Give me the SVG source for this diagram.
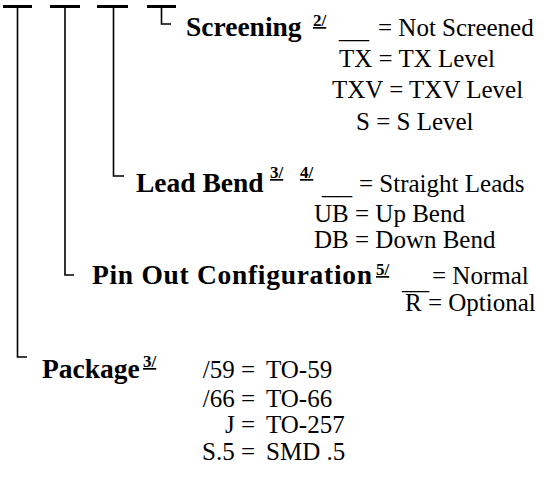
<svg xmlns="http://www.w3.org/2000/svg" width="544" height="478" viewBox="0 0 544 478">
<style>
.b{font-family:"Liberation Serif","Times New Roman",serif;font-weight:bold;font-size:27.5px;fill:#000}
.r{font-family:"Liberation Serif","Times New Roman",serif;font-size:25px;fill:#000}
.s{font-family:"Liberation Serif","Times New Roman",serif;font-weight:bold;font-size:17px;text-decoration:underline;fill:#000}
.bar{stroke:#000;stroke-width:3;fill:none}
.ln{stroke:#000;stroke-width:1.6;fill:none}
</style>
<rect width="544" height="478" fill="#fff"/>
<g id="connectors">
<line class="bar" x1="3" y1="6.5" x2="32" y2="6.5"/>
<line class="bar" x1="50" y1="6.5" x2="80" y2="6.5"/>
<line class="bar" x1="97" y1="6.5" x2="128" y2="6.5"/>
<line class="bar" x1="147" y1="6.5" x2="176" y2="6.5"/>
<polyline class="ln" points="17.5,7 17.5,357 27,357"/>
<polyline class="ln" points="65,7 65,275 74,275"/>
<polyline class="ln" points="113.5,7 113.5,176 124,176"/>
<polyline class="ln" points="161.5,7 161.5,24 171,24"/>
</g>
<g id="screening">
<text class="b" x="186" y="36">Screening</text>
<text class="s" x="313" y="26">2/</text>
<text class="r" x="339" y="38" textLength="30" lengthAdjust="spacingAndGlyphs">__</text>
<text class="r" x="378" y="36">= Not Screened</text>
<text class="r" x="339" y="67">TX = TX Level</text>
<text class="r" x="332" y="98">TXV = TXV Level</text>
<text class="r" x="356" y="130">S = S Level</text>
</g>
<g id="lead-bend">
<text class="b" x="136" y="192">Lead Bend</text>
<text class="s" x="270" y="178">3/</text>
<text class="s" x="300" y="178">4/</text>
<text class="r" x="322" y="194" textLength="30" lengthAdjust="spacingAndGlyphs">__</text>
<text class="r" x="359" y="192">= Straight Leads</text>
<text class="r" x="314" y="222">UB = Up Bend</text>
<text class="r" x="314" y="248">DB = Down Bend</text>
</g>
<g id="pin-out">
<text class="b" x="92" y="284" textLength="280">Pin Out Configuration</text>
<text class="s" x="376" y="275">5/</text>
<text class="r" x="402" y="289" textLength="27" lengthAdjust="spacingAndGlyphs">__</text>
<text class="r" x="432" y="284">= Normal</text>
<text class="r" x="405" y="311">R = Optional</text>
</g>
<g id="package">
<text class="b" x="42" y="378">Package</text>
<text class="s" x="143" y="367">3/</text>
<text class="r" x="255" y="378" text-anchor="end">/59 =</text>
<text class="r" x="266" y="378">TO-59</text>
<text class="r" x="255" y="407" text-anchor="end">/66 =</text>
<text class="r" x="266" y="407">TO-66</text>
<text class="r" x="255" y="433" text-anchor="end">J =</text>
<text class="r" x="266" y="433">TO-257</text>
<text class="r" x="255" y="460" text-anchor="end">S.5 =</text>
<text class="r" x="266" y="460">SMD .5</text>
</g>
</svg>
